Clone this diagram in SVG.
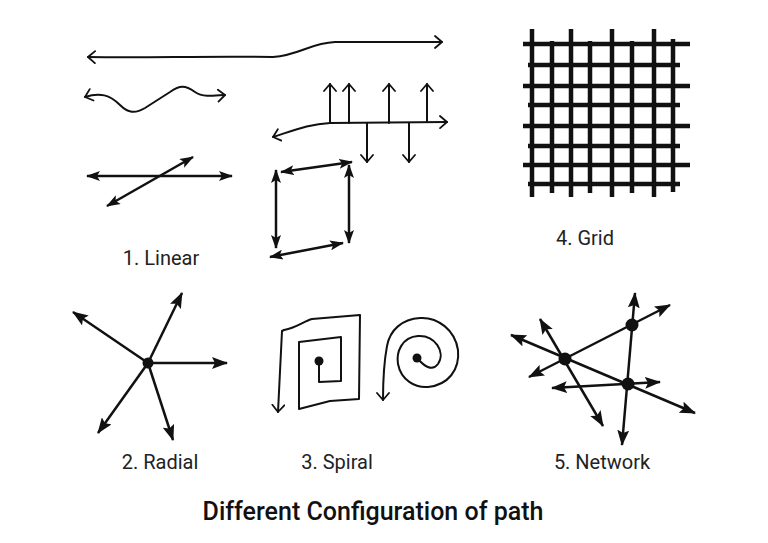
<svg xmlns="http://www.w3.org/2000/svg" width="768" height="543" viewBox="0 0 768 543">
<style>
.hand{fill:none;stroke:#111;stroke-width:2;stroke-linecap:round;stroke-linejoin:round}
.arr{fill:none;stroke:#111;stroke-width:2.5}
.grid{stroke:#111;stroke-width:4.5}
.lbl{font-family:Roboto,"Liberation Sans",sans-serif;font-size:20px;fill:#222;text-anchor:middle}
.title{font-family:Roboto,"Liberation Sans",sans-serif;font-size:25px;font-weight:500;fill:#111;text-anchor:middle}
.dot{fill:#111}
</style>
<defs>
<marker id="fa" viewBox="0 0 14 10" markerWidth="14" markerHeight="10" refX="13" refY="5" orient="auto-start-reverse" markerUnits="userSpaceOnUse">
<path d="M0,0 L14,5 L0,10 L3,5 z" fill="#111"/>
</marker>
<marker id="fb" viewBox="0 0 16 12" markerWidth="16" markerHeight="12" refX="15" refY="6" orient="auto-start-reverse" markerUnits="userSpaceOnUse">
<path d="M0,0 L16,6 L0,12 L3,6 z" fill="#111"/>
</marker>
<marker id="oa" viewBox="0 0 10 14" markerWidth="10" markerHeight="14" refX="8" refY="7" orient="auto-start-reverse" markerUnits="userSpaceOnUse">
<path d="M1,1 L8,7 L1,13" fill="none" stroke="#111" stroke-width="1.8" stroke-linecap="round" stroke-linejoin="round"/>
</marker>
</defs>
<rect width="768" height="543" fill="#fff"/>

<g id="linear">
<path class="hand" d="M88,57 C150,58 200,56 273,57 C300,55 310,43 335,42 L442,42" marker-start="url(#oa)" marker-end="url(#oa)"/>
<path class="hand" d="M85,97 C100,92 110,95 120,105 C128,113 135,114 145,108 L170,92 C180,85 185,85 195,92 C202,97 212,96 225,95" marker-start="url(#oa)" marker-end="url(#oa)"/>
<path class="hand" d="M273,137 C295,130 310,124 330,123 L447,122" marker-start="url(#oa)" marker-end="url(#oa)"/>
<path class="hand" d="M330,123 L330,84" marker-end="url(#oa)"/>
<path class="hand" d="M349,123 L349,84" marker-end="url(#oa)"/>
<path class="hand" d="M389,123 L389,84" marker-end="url(#oa)"/>
<path class="hand" d="M427,122 L427,84" marker-end="url(#oa)"/>
<path class="hand" d="M367,123 L367,162" marker-end="url(#oa)"/>
<path class="hand" d="M409,123 L409,162" marker-end="url(#oa)"/>
<line class="arr" x1="87" y1="176" x2="232" y2="176" marker-start="url(#fa)" marker-end="url(#fa)"/>
<line class="arr" x1="107" y1="206" x2="193" y2="157" marker-start="url(#fa)" marker-end="url(#fa)"/>
<line class="arr" x1="281" y1="172" x2="352" y2="162" marker-start="url(#fa)" marker-end="url(#fa)"/>
<line class="arr" x1="276" y1="170" x2="276" y2="248" marker-start="url(#fa)" marker-end="url(#fa)"/>
<line class="arr" x1="349" y1="165" x2="349" y2="243" marker-start="url(#fa)" marker-end="url(#fa)"/>
<line class="arr" x1="270" y1="257" x2="343" y2="243" marker-start="url(#fa)" marker-end="url(#fa)"/>
<text class="lbl" x="161" y="265">1. Linear</text>
</g>

<g id="grid">
<g class="grid">
<line x1="532" y1="29" x2="532" y2="197"/>
<line x1="552" y1="41" x2="552" y2="193"/>
<line x1="571" y1="29" x2="571" y2="197"/>
<line x1="590" y1="41" x2="590" y2="193"/>
<line x1="612" y1="29" x2="612" y2="197"/>
<line x1="632" y1="41" x2="632" y2="193"/>
<line x1="654" y1="29" x2="654" y2="197"/>
<line x1="673" y1="39" x2="673" y2="192"/>
<line x1="523" y1="44" x2="690" y2="44"/>
<line x1="528" y1="65" x2="680" y2="65"/>
<line x1="523" y1="86" x2="690" y2="86"/>
<line x1="528" y1="105" x2="680" y2="105"/>
<line x1="523" y1="126" x2="690" y2="126"/>
<line x1="528" y1="146" x2="680" y2="146"/>
<line x1="523" y1="165" x2="690" y2="165"/>
<line x1="528" y1="184" x2="680" y2="184"/>
</g>
<text class="lbl" x="585" y="245">4. Grid</text>
</g>

<g id="radial">
<line class="arr" x1="148" y1="363" x2="73" y2="312" marker-end="url(#fb)"/>
<line class="arr" x1="148" y1="363" x2="182" y2="293" marker-end="url(#fb)"/>
<line class="arr" x1="148" y1="363" x2="227" y2="363" marker-end="url(#fb)"/>
<line class="arr" x1="148" y1="363" x2="173" y2="440" marker-end="url(#fb)"/>
<line class="arr" x1="148" y1="363" x2="98" y2="433" marker-end="url(#fb)"/>
<circle class="dot" cx="148" cy="363" r="5.5"/>
<text class="lbl" x="160" y="469">2. Radial</text>
</g>

<g id="spiral">
<path class="hand" d="M319,361 L319,382 L341,381 L341,337 L299,342 L299,409 L330,401 L359,399 L360,315 L312,319 C304,321 298,327 284,330 L282,331 L278,412" marker-end="url(#oa)"/>
<circle class="dot" cx="319" cy="361" r="4.5"/>
<path class="hand" d="M417,358 C424,366 432,372 438,364 C446,352 435,335 418,336 C402,337 396,352 398,364 C401,380 415,388 428,387 C448,385 460,370 458,350 C455,330 438,317 420,318 C402,319 390,330 387,346 C384,362 383,382 383,400" marker-end="url(#oa)"/>
<circle class="dot" cx="417" cy="358" r="4.5"/>
<text class="lbl" x="337" y="469">3. Spiral</text>
</g>

<g id="network">
<line class="arr" x1="529" y1="377" x2="670" y2="305" marker-start="url(#fb)" marker-end="url(#fb)"/>
<line class="arr" x1="511" y1="335" x2="695" y2="413" marker-start="url(#fb)" marker-end="url(#fb)"/>
<line class="arr" x1="540" y1="319" x2="603" y2="426" marker-start="url(#fb)" marker-end="url(#fb)"/>
<line class="arr" x1="635" y1="293" x2="622" y2="445" marker-start="url(#fb)" marker-end="url(#fb)"/>
<line class="arr" x1="552" y1="388" x2="660" y2="382" marker-start="url(#fb)" marker-end="url(#fb)"/>
<circle class="dot" cx="565" cy="359" r="6.5"/>
<circle class="dot" cx="632" cy="325" r="6.5"/>
<circle class="dot" cx="628" cy="384" r="6.5"/>
<text class="lbl" x="602" y="469">5. Network</text>
</g>

<text class="title" x="373" y="520">Different Configuration of path</text>
</svg>
